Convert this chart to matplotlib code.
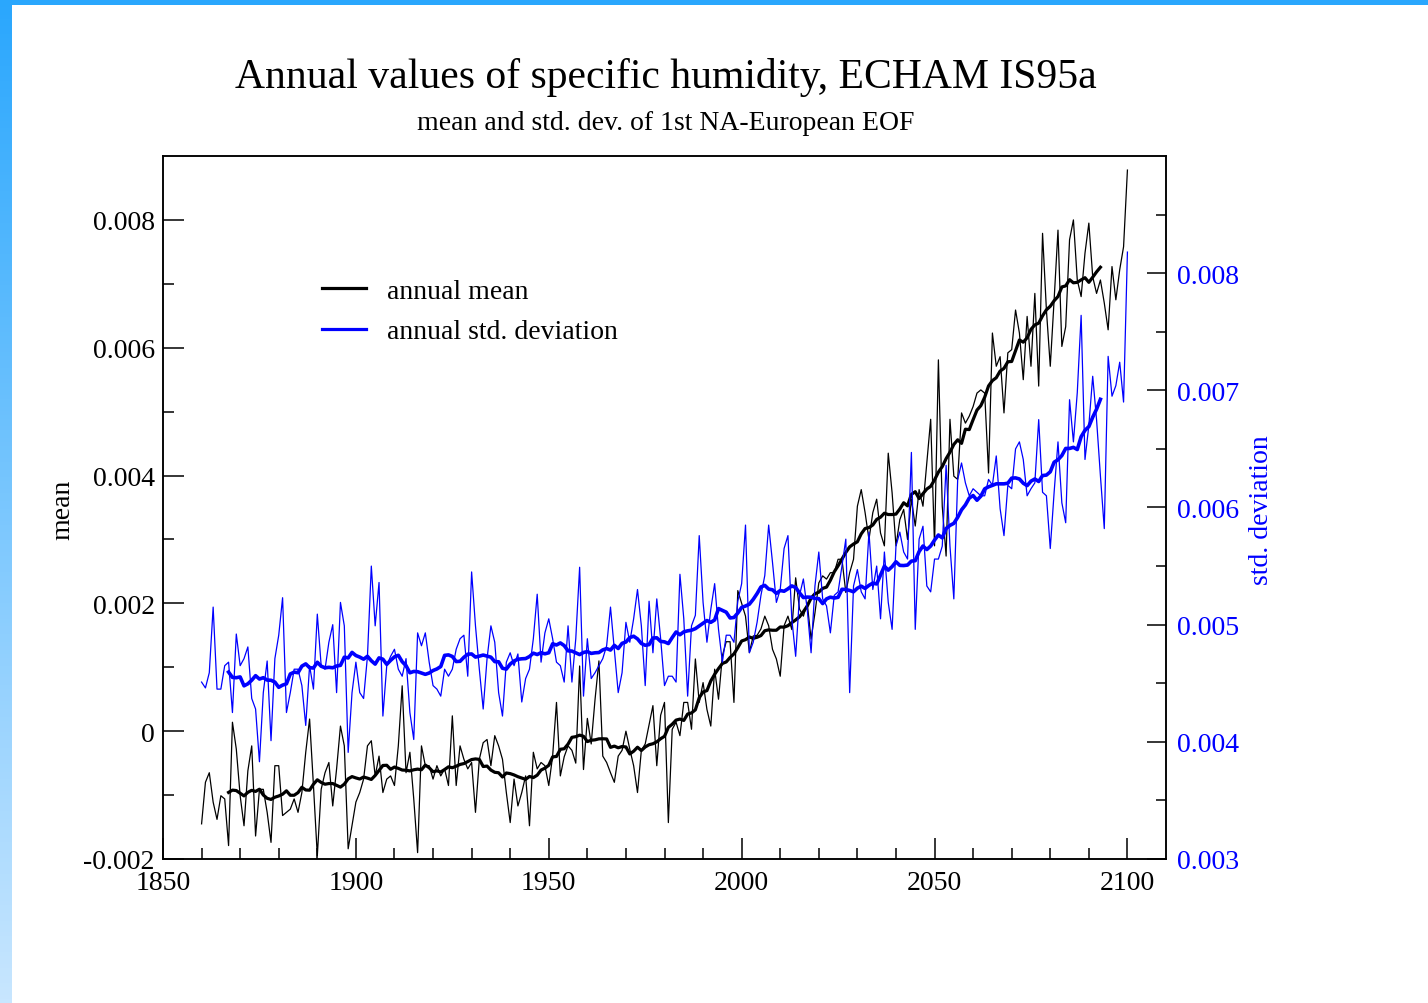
"""Annual specific humidity (ECHAM IS95a): mean and std. dev. of the 1st
NA-European EOF, thin = annual values, thick = 15-yr running mean."""
import numpy as np
import matplotlib.pyplot as plt
from matplotlib.colors import LinearSegmentedColormap
from matplotlib.lines import Line2D
from matplotlib.ticker import FixedLocator, FuncFormatter

plt.rcParams["font.family"] = ["Liberation Serif", "DejaVu Serif"]
plt.rcParams["axes.unicode_minus"] = False

YEARS = np.arange(1860, 2101)

# annual mean, units of 1e-3
MEAN_ANNUAL = np.array([
    -1.45, -0.80, -0.65, -1.11, -1.38, -1.01, -1.06, -1.79, 0.14, -0.28,
    -1.01, -1.48, -0.62, -0.23, -1.64, -0.91, -0.91, -1.27, -1.74, -0.54,
    -0.54, -1.32, -1.27, -1.22, -1.06, -1.27, -0.96, -0.33, 0.19, -0.85,
    -1.95, -0.91, -0.65, -0.49, -1.17, -0.59, 0.08, -0.23, -1.84, -1.48,
    -1.11, -0.96, -0.75, -0.23, -0.15, -0.70, -0.39, -0.96, -0.75, -0.70,
    -0.85, -0.23, 0.71, -0.65, -0.33, -1.06, -1.90, -0.23, -0.54, -0.54,
    -0.75, -0.54, -0.70, -0.59, -0.85, 0.24, -0.85, -0.23, -0.44, -0.59,
    -0.49, -1.27, -0.44, -0.18, -0.13, -0.54, -0.07, -0.23, -0.44, -0.96,
    -1.43, -0.75, -1.17, -0.96, -0.70, -1.48, -0.33, -0.59, -0.49, -0.54,
    -0.85, -0.39, 0.45, -0.70, -0.40, -0.23, -0.30, -0.50, 1.02, -0.60,
    0.20, -0.20, 0.50, 1.10, -0.39, -0.49, -0.65, -0.80, -0.39, -0.30,
    0.00, -0.28, -0.54, -0.96, -0.30, -0.20, 0.10, 0.40, -0.54, 0.25,
    0.45, -1.43, 0.03, 0.14, -0.07, 0.45, 0.45, 0.03, 1.13, 0.45,
    0.76, 0.34, 0.08, 0.97, 0.50, 1.18, 1.40, 1.40, 0.45, 2.20,
    2.00, 1.80, 1.23, 1.49, 1.50, 1.60, 1.80, 1.65, 1.28, 1.13,
    0.86, 1.65, 1.80, 1.59, 2.40, 1.91, 1.80, 2.00, 1.44, 1.85,
    2.32, 2.43, 2.38, 2.48, 2.48, 2.69, 2.69, 2.17, 2.48, 2.69,
    3.52, 3.78, 3.42, 3.00, 3.42, 3.63, 3.10, 2.90, 4.35, 3.73,
    2.90, 3.31, 3.47, 3.00, 3.63, 3.21, 3.78, 3.52, 4.20, 4.88,
    2.90, 5.81, 3.52, 2.74, 4.88, 3.99, 3.94, 4.98, 4.82, 4.93,
    5.08, 5.29, 5.34, 5.29, 4.04, 6.23, 5.71, 5.86, 4.98, 5.92,
    5.97, 6.59, 6.23, 5.50, 6.49, 5.71, 6.85, 5.40, 7.79, 6.59,
    5.71, 6.75, 7.84, 6.02, 6.33, 7.69, 8.00, 7.06, 6.80, 7.48,
    7.95, 7.11, 6.85, 7.06, 6.70, 6.28, 7.27, 6.75, 7.22, 7.58,
    8.78,
]) * 1e-3

# annual std. deviation, units of 1e-3
STD_ANNUAL = np.array([
    4.51, 4.46, 4.59, 5.15, 4.45, 4.45, 4.65, 4.68, 4.25, 4.92,
    4.65, 4.71, 4.81, 4.37, 4.28, 3.83, 4.42, 4.69, 4.01, 4.71,
    4.91, 5.23, 4.25, 4.42, 4.62, 4.62, 4.48, 4.14, 4.65, 4.45,
    5.09, 4.65, 4.62, 4.85, 5.00, 4.42, 5.19, 4.99, 3.91, 4.42,
    4.68, 4.42, 4.37, 4.73, 5.50, 4.99, 5.36, 4.22, 4.65, 4.73,
    4.79, 4.62, 4.56, 4.71, 4.25, 4.02, 4.93, 4.82, 4.93, 4.68,
    4.48, 4.45, 4.39, 4.62, 4.56, 4.62, 4.79, 4.88, 4.91, 4.56,
    5.45, 4.99, 4.62, 4.28, 4.71, 4.99, 4.85, 4.42, 4.22, 4.68,
    4.76, 4.65, 4.75, 4.34, 4.54, 4.62, 4.88, 5.26, 4.68, 4.93,
    5.05, 4.88, 4.68, 4.65, 4.51, 4.99, 4.51, 4.88, 5.49, 4.39,
    4.88, 4.54, 4.59, 4.65, 4.71, 4.82, 5.15, 4.79, 4.42, 4.59,
    5.02, 4.85, 5.05, 5.30, 4.99, 4.48, 5.20, 4.76, 5.22, 4.88,
    4.48, 4.56, 4.56, 4.51, 5.43, 5.05, 4.39, 4.99, 5.08, 5.76,
    5.19, 4.85, 5.13, 5.35, 4.96, 4.68, 4.91, 4.91, 4.85, 5.20,
    5.35, 5.85, 4.76, 4.85, 5.02, 5.25, 5.42, 5.85, 5.53, 5.19,
    5.30, 5.65, 5.76, 5.05, 4.73, 5.25, 5.39, 5.13, 4.76, 5.33,
    5.62, 5.22, 5.16, 4.93, 5.25, 5.28, 5.50, 5.73, 4.42, 5.33,
    5.47, 5.28, 5.22, 5.79, 5.30, 5.50, 5.05, 5.62, 5.19, 4.96,
    5.67, 5.79, 5.62, 5.56, 6.47, 4.96, 5.73, 5.84, 5.33, 5.28,
    5.56, 5.56, 5.67, 6.36, 5.67, 5.22, 6.24, 6.38, 6.21, 6.10,
    6.16, 6.13, 6.10, 6.10, 6.24, 6.19, 6.44, 5.99, 5.76, 6.19,
    6.16, 6.50, 6.56, 6.41, 6.10, 6.16, 6.21, 6.75, 6.13, 6.10,
    5.65, 6.13, 6.56, 6.04, 5.87, 6.92, 6.56, 6.98, 7.64, 6.41,
    6.70, 7.12, 6.75, 6.27, 5.82, 7.29, 6.95, 7.04, 7.24, 6.90,
    8.18,
]) * 1e-3

WINDOW = 15

MEAN_TICKS = [-0.002, 0.0, 0.002, 0.004, 0.006, 0.008]
MEAN_MINOR = [-0.001, 0.001, 0.003, 0.005, 0.007]
STD_TICKS = [0.003, 0.004, 0.005, 0.006, 0.007, 0.008]
STD_MINOR = [0.0035, 0.0045, 0.0055, 0.0065, 0.0075, 0.0085]
YEAR_TICKS = [1850, 1900, 1950, 2000, 2050, 2100]
YEAR_MINOR = [y for y in range(1860, 2100, 10) if y % 50]

BLUE = "#0000ff"
W, H = 1428, 1004


def running_mean(x, n=WINDOW):
    return np.convolve(x, np.ones(n) / n, mode="valid")


def fmt_mean(v, _):
    return "0" if abs(v) < 1e-12 else f"{v:.3f}"


fig = plt.figure(figsize=(W / 100, H / 100), dpi=100)

# page frame: gradient bar down the left, solid strip along the top
frame_cmap = LinearSegmentedColormap.from_list("frame", ["#c8e6ff", "#2aa7fd"])
side = fig.add_axes([0, 0, 12 / W, 1])
side.imshow(np.linspace(1, 0, 256)[:, None], aspect="auto", cmap=frame_cmap)
side.axis("off")
top = fig.add_axes([0, 1 - 6 / H, 1, 6 / H])
top.set_facecolor("#2aa7fd")
top.set_xticks([]); top.set_yticks([])
for s in top.spines.values():
    s.set_visible(False)

ax = fig.add_axes([163 / W, 1 - 860 / H, 1003 / W, 703 / H])
ax2 = ax.twinx()

half = WINDOW // 2
smooth_years = YEARS[half:-half]

ax.plot(YEARS, MEAN_ANNUAL, color="black", lw=0.9)
ax.plot(smooth_years, running_mean(MEAN_ANNUAL), color="black", lw=2.3)
ax2.plot(YEARS, STD_ANNUAL, color=BLUE, lw=0.9)
ax2.plot(smooth_years, running_mean(STD_ANNUAL), color=BLUE, lw=2.6)

ax.set_xlim(1850, 2110)
ax.set_ylim(-0.002, 0.009)
ax2.set_ylim(0.003, 0.009)

ax.xaxis.set_major_locator(FixedLocator(YEAR_TICKS))
ax.xaxis.set_minor_locator(FixedLocator(YEAR_MINOR))
ax.yaxis.set_major_locator(FixedLocator(MEAN_TICKS))
ax.yaxis.set_minor_locator(FixedLocator(MEAN_MINOR))
ax.yaxis.set_major_formatter(FuncFormatter(fmt_mean))
ax2.yaxis.set_major_locator(FixedLocator(STD_TICKS))
ax2.yaxis.set_minor_locator(FixedLocator(STD_MINOR))
ax2.yaxis.set_major_formatter(FuncFormatter(lambda v, _: f"{v:.3f}"))

ax.tick_params(axis="x", which="major", direction="in", length=15, width=1.1,
               labelsize=20, pad=8, top=False)
ax.tick_params(axis="x", which="minor", direction="in", length=8, width=1.1, top=False)
ax.tick_params(axis="y", which="major", direction="in", length=15, width=1.1,
               labelsize=20, pad=6, right=False)
ax.tick_params(axis="y", which="minor", direction="in", length=8, width=1.1, right=False)
ax2.tick_params(axis="y", which="major", direction="in", length=14, width=1.1,
                labelsize=20, pad=8, colors="black", labelcolor=BLUE)
ax2.tick_params(axis="y", which="minor", direction="in", length=7, width=1.1)

# lift the bottom mean label a touch clear of the year labels
ax.get_yticklabels()[0].set_verticalalignment("center_baseline")

for a in (ax, ax2):
    for s in a.spines.values():
        s.set_linewidth(1.1)

handles = [Line2D([], [], color="black", lw=2.3),
           Line2D([], [], color=BLUE, lw=2.3)]
ax2.legend(handles, ["annual mean", "annual std. deviation"],
           loc="upper left", bbox_to_anchor=(0.1585, 0.826), frameon=False,
           fontsize=20, handlelength=1.58, handletextpad=0.76,
           labelspacing=0.55, borderpad=0, borderaxespad=0)

fig.text(666 / W, 1 - 88 / H, "Annual values of specific humidity, ECHAM IS95a",
         ha="center", va="baseline", fontsize=30)
fig.text(666 / W, 1 - 130 / H, "mean and std. dev. of 1st NA-European EOF",
         ha="center", va="baseline", fontsize=20)
fig.text(63 / W, 1 - 510 / H, "mean", rotation=90, ha="center", va="center",
         fontsize=20)
fig.text(1262 / W, 1 - 510 / H, "std. deviation", rotation=90, ha="center",
         va="center", fontsize=20, color=BLUE)

fig.savefig("out.png", dpi=100)
